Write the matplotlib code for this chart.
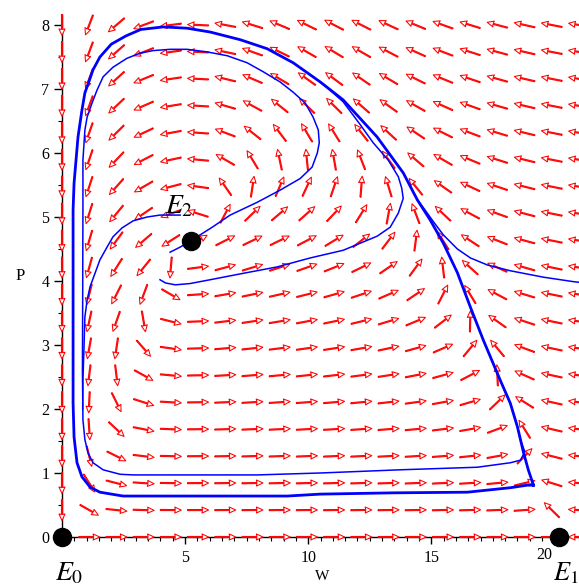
import numpy as np
import matplotlib
matplotlib.use("Agg")
import matplotlib.pyplot as plt
from matplotlib.ticker import MultipleLocator, FixedLocator, FixedFormatter

plt.rcParams["font.family"] = ["Liberation Serif", "DejaVu Serif"]
plt.rcParams["mathtext.fontset"] = "stix"

# ---- predator-prey model (W = prey, P = predator) ----
r, K = 1.126, 20.2          # prey growth rate, carrying capacity
c, d, q = 1.0, 0.8, 1.5     # uptake rate, half-saturation, Hill exponent
e, m = 1.467, 1.384         # conversion, predator mortality

W_MAX, P_MAX = 21.0, 8.0    # direction-field window
N_GRID = 20

# ---- axis ticks ----
x_ticks = [5, 10, 15, 20]
x_tick_labels = ["5", "10", "15", "20"]

# ---- equilibria ----
eq_w = [0.0, 20.2, 5.24]
eq_p = [0.0, 0.0, 4.63]
eq_names = [r"$E_0$", r"$E_1$", r"$E_2$"]

# ---- trajectories ----
cycle_w = [19.15, 18.94, 18.74, 18.50, 18.21, 17.80, 17.11, 16.59, 16.06, 15.49,
           14.96, 14.43, 13.86, 12.80, 11.42, 10.49, 9.39, 8.33, 7.24, 6.02,
           5.08, 4.11, 3.20, 2.60, 2.00, 1.54, 1.26, 1.08, 0.93, 0.81,
           0.65, 0.57, 0.49, 0.45, 0.45, 0.45, 0.45, 0.49, 0.61, 0.81,
           1.14, 1.54, 2.48, 5.33, 9.15, 10.49, 13.46, 16.46, 18.21, 18.90, 19.15]
cycle_p = [0.81, 1.05, 1.33, 1.72, 2.09, 2.45, 3.08, 3.59, 4.13, 4.59,
           4.95, 5.27, 5.69, 6.25, 6.83, 7.11, 7.41, 7.63, 7.77, 7.89,
           7.95, 7.97, 7.93, 7.83, 7.70, 7.50, 7.30, 7.10, 6.94, 6.67,
           6.25, 5.89, 5.53, 5.11, 3.70, 2.61, 2.09, 1.56, 1.16, 0.94,
           0.78, 0.70, 0.64, 0.64, 0.64, 0.67, 0.69, 0.70, 0.77, 0.81, 0.81]

spiral_w = [4.39, 4.80, 5.28, 6.10, 6.83, 7.93, 8.86, 9.67, 10.16, 10.37,
            10.45, 10.41, 10.20, 9.88, 9.39, 8.86, 8.17, 7.52, 6.71, 5.89,
            5.08, 4.39, 3.70, 3.17, 2.64, 2.07, 1.67, 1.42, 1.22, 1.02,
            0.93, 0.85, 0.85, 0.84, 0.83, 0.85, 0.93, 1.06, 1.26, 1.67,
            2.36, 2.89, 7.93, 10.49, 13.74, 16.87, 18.21, 18.62, 18.80, 18.62,
            18.50, 18.21, 17.80, 17.11]
spiral_p = [4.45, 4.53, 4.64, 4.84, 5.03, 5.23, 5.42, 5.60, 5.78, 6.00,
            6.16, 6.36, 6.56, 6.78, 6.95, 7.11, 7.27, 7.41, 7.52, 7.58,
            7.62, 7.62, 7.60, 7.56, 7.48, 7.34, 7.19, 6.98, 6.78, 6.56,
            6.36, 5.89, 5.11, 3.70, 2.61, 1.83, 1.52, 1.31, 1.16, 1.05,
            0.98, 0.97, 0.97, 1.00, 1.05, 1.09, 1.16, 1.20, 1.33, 1.52,
            1.72, 2.09, 2.45, 3.08]

upper_w = [4.80, 4.39, 3.98, 3.46, 2.89, 2.44, 2.07, 1.83, 1.54, 1.34,
           1.14, 1.02, 0.93, 0.89, 0.85, 0.84]
upper_p = [5.03, 5.03, 5.03, 5.00, 4.94, 4.83, 4.69, 4.53, 4.33, 4.12,
           3.91, 3.70, 3.44, 2.92, 2.45, 2.00]

lower_w = [3.98, 4.20, 4.60, 5.20, 6.02, 7.36, 8.74, 10.08, 11.42, 12.80,
           13.33, 13.66, 13.86, 13.80, 13.66, 13.25, 12.64, 12.10, 11.42, 10.60]
lower_p = [4.02, 3.97, 3.94, 3.96, 4.02, 4.12, 4.22, 4.36, 4.48, 4.70,
           4.84, 5.06, 5.29, 5.45, 5.63, 5.89, 6.16, 6.45, 6.80, 7.08]

outer_w = [21.0, 20.77, 19.55, 18.21, 17.28, 16.59, 16.06, 15.49, 15.08, 14.67, 14.43]
outer_p = [3.98, 3.99, 4.06, 4.16, 4.25, 4.36, 4.50, 4.72, 4.93, 5.15, 5.27]


def uptake(w):
    wq = np.power(np.maximum(w, 0.0), q)
    return wq / (d ** q + wq)


def rhs(w, p):
    f = uptake(w)
    dw = r * w * (1.0 - w / K) - c * p * f
    dp = p * (e * f - m)
    return dw, dp


FIG_W, FIG_H = 579, 587
fig = plt.figure(figsize=(FIG_W / 100, FIG_H / 100), dpi=100)
ax = fig.add_axes([62 / FIG_W, 50 / FIG_H, 517 / FIG_W, 521.6 / FIG_H])
ax.set_xlim(0, 21)
ax.set_ylim(0, 8.15)

for side in ("top", "right"):
    ax.spines[side].set_visible(False)
for side in ("left", "bottom"):
    ax.spines[side].set_color("black")
    ax.spines[side].set_linewidth(1.0)
    ax.spines[side].set_zorder(1)

# the last x label sits a little left of its tick, next to the E1 marker label
ax.xaxis.set_major_locator(FixedLocator(x_ticks))
ax.xaxis.set_major_formatter(FixedFormatter(x_tick_labels[:-1] + [""]))
ax.text(x_ticks[-1] - 0.42, -0.155, x_tick_labels[-1], fontsize=11.5,
        ha="center", va="top", clip_on=False)
ax.xaxis.set_minor_locator(MultipleLocator(0.5))
ax.yaxis.set_major_locator(MultipleLocator(1))
ax.yaxis.set_minor_locator(MultipleLocator(0.5))
ax.tick_params(axis="x", which="major", direction="out", length=5, width=1, pad=4, labelsize=11.5)
ax.tick_params(axis="x", which="minor", direction="out", length=3, width=0.8)
ax.tick_params(axis="y", which="major", direction="out", length=6, width=1, pad=3, labelsize=11.5)
ax.tick_params(axis="y", which="minor", direction="out", length=3, width=0.8)

# direction field: unit arrows in screen space
sx = 517 / 21.0
sy = 521.6 / 8.15
Wg, Pg = np.meshgrid(np.linspace(0, W_MAX, N_GRID), np.linspace(0, P_MAX, N_GRID))
dW, dP = rhs(Wg, Pg)
U = dW * sx
V = dP * sy
L = np.hypot(U, V)
ok = L > 1e-9
ax.quiver(Wg[ok], Pg[ok], U[ok] / L[ok], V[ok] / L[ok],
          angles="uv", pivot="middle", units="dots", scale_units="dots",
          scale=1 / 21.0, width=1.1, headwidth=5.5, headlength=6,
          headaxislength=5.5, facecolor="white", edgecolor="#ff0000",
          linewidth=0.75, clip_on=False, zorder=2)

blue = "#0000ff"
ax.plot(cycle_w, cycle_p, color=blue, lw=2.0, solid_joinstyle="round", zorder=3)
for tw, tp in ((spiral_w, spiral_p), (upper_w, upper_p),
               (lower_w, lower_p), (outer_w, outer_p)):
    ax.plot(tw, tp, color=blue, lw=1.1, solid_joinstyle="round", zorder=3)

ax.plot(eq_w, eq_p, "o", color="black", markersize=13, clip_on=False, zorder=4)

label_pos = [(-0.28, -0.68), (19.93, -0.68), (4.19, 5.06)]
label_size = [20, 19, 20]
for name, (lx, ly), fs in zip(eq_names, label_pos, label_size):
    ax.text(lx, ly, name, fontsize=fs, ha="left", va="baseline",
            clip_on=False, zorder=5)

fig.text(322 / FIG_W, 1 - 577 / FIG_H, "W", ha="center", va="center", fontsize=11)
fig.text(20 / FIG_W, 1 - 276 / FIG_H, "P", ha="center", va="center", fontsize=12)

fig.savefig("out.png", dpi=100)
